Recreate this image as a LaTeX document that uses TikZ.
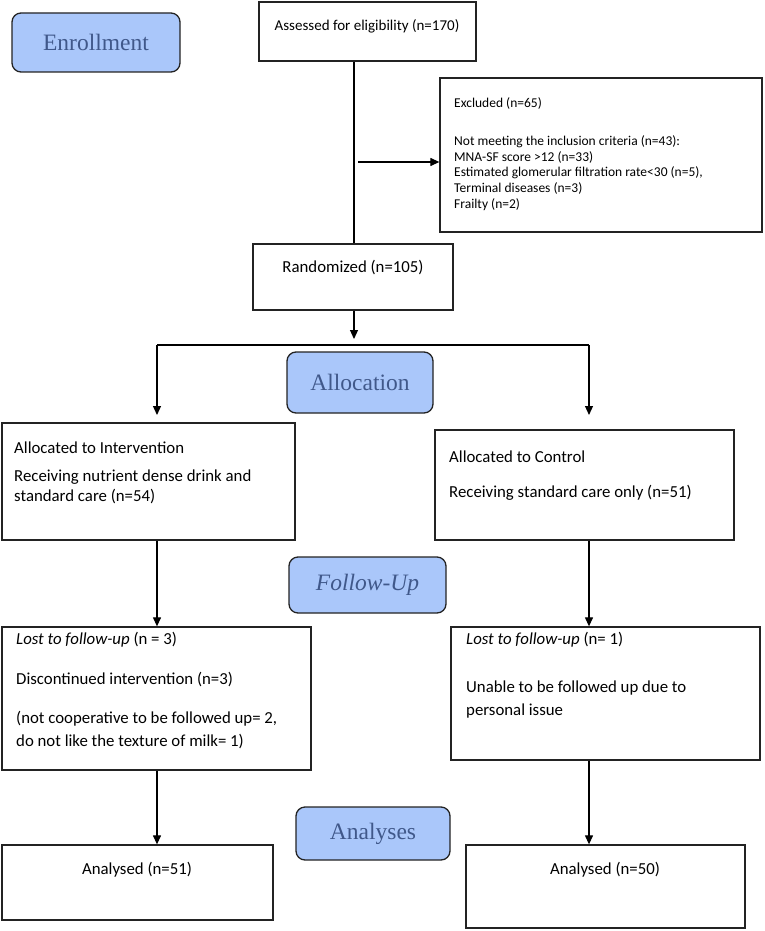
\documentclass[tikz,border=0pt]{standalone}
\usepackage{fontspec}
\setmainfont{Carlito}
\newfontfamily\headfont{Liberation Serif}
\usetikzlibrary{arrows.meta,fit}
\definecolor{hfill}{RGB}{170,199,250}
\definecolor{htext}{RGB}{64,88,138}
\definecolor{edge}{RGB}{35,35,35}
\begin{document}
\begin{tikzpicture}[x=1pt,y=-1pt,
  box/.style={draw=edge, line width=1.3pt, rectangle, inner sep=0pt},
  head/.style={draw=edge, line width=1.3pt, fill=hfill, rounded corners=9pt, inner sep=0pt},
  htxt/.style={font=\headfont\fontsize{23.5}{28}\selectfont, text=htext, inner sep=0pt},
  txt/.style={font=\fontsize{16.8}{20}\selectfont, inner sep=0pt, anchor=west, align=left},
  ltxt/.style={font=\fontsize{16.8}{23}\selectfont, inner sep=0pt, anchor=west, align=left},
  ctxt/.style={font=\fontsize{16.8}{20}\selectfont, inner sep=0pt},
  conn/.style={draw=black, line width=1.2pt},
  arr/.style={conn, -{Triangle[length=9pt,width=8pt]}}]
\useasboundingbox (0,0) rectangle (764,931);

% headers
\node[head, fit={(12,13) (180,72)}] (enr) {};
\node[htxt] (enrt) at (enr.center) {Enrollment};
\node[head, fit={(287,352) (433,413)}] (alloc) {};
\node[htxt] (alloct) at (alloc.center) {Allocation};
\node[head, fit={(289,557) (446,613)}] (fu) {};
\node[htxt, font=\headfont\itshape\fontsize{23.5}{28}\selectfont] (fut) at (fu.center) {Follow-Up};
\node[head, fit={(296,807) (450,860)}] (ana) {};
\node[htxt] (anat) at (ana.center) {Analyses};

% boxes
\node[box, fit={(259,2) (476,61)}] (assess) {};
\node[ctxt, font=\fontsize{15}{18}\selectfont] (assesst) at (367,26) {Assessed for eligibility (n=170)};

\node[box, fit={(440,78) (762,232)}] (excl) {};
\node[txt, font=\fontsize{13.5}{15.8}\selectfont] (exclt1) at (454,103) {Excluded (n=65)};
\node[txt, font=\fontsize{13.5}{15.8}\selectfont] (exclt2) at (454,173) {Not meeting the inclusion criteria (n=43):\\MNA-SF score {>}12 (n=33)\\Estimated glomerular filtration rate{<}30 (n=5),\\Terminal diseases (n=3)\\Frailty (n=2)};

\node[box, fit={(253,244) (453,310)}] (rand) {};
\node[ctxt] (randt) at (353,268) {Randomized (n=105)};

\node[box, fit={(2,423) (295,540)}] (intv) {};
\node[txt] (intvt1) at (14,448) {Allocated to Intervention};
\node[txt] (intvt2) at (14,487) {Receiving nutrient dense drink and\\standard care (n=54)};

\node[box, fit={(435,430) (734,540)}] (ctrl) {};
\node[txt] (ctrlt1) at (449,457) {Allocated to Control};
\node[txt] (ctrlt2) at (449,493) {Receiving standard care only (n=51)};

\node[box, fit={(2,627) (311,770)}] (lostl) {};
\node[txt] (lostlt1) at (16,640) {\textit{Lost to follow-up} (n = 3)};
\node[txt] (lostlt2) at (16,680) {Discontinued intervention (n=3)};
\node[ltxt] (lostlt3) at (16,730) {(not cooperative to be followed up= 2,\\do not like the texture of milk= 1)};

\node[box, fit={(451,627) (760,760)}] (lostr) {};
\node[txt] (lostrt1) at (466,640) {\textit{Lost to follow-up} (n= 1)};
\node[ltxt] (lostrt2) at (466,700) {Unable to be followed up due to\\personal issue};

\node[box, fit={(2,845) (273,920)}] (anl) {};
\node[ctxt] (anlt) at (137,870) {Analysed (n=51)};
\node[box, fit={(466,845) (745,928)}] (anr) {};
\node[ctxt] (anrt) at (605,870) {Analysed (n=50)};

% connectors
\coordinate (trunk) at (354,0);
\coordinate (exstart) at (358,162);
\coordinate (splitl) at (157,345);
\coordinate (splitr) at (589,345);
\coordinate (tipm) at (354,339);
\coordinate (tipl) at (157,415);
\coordinate (tipr) at (589,415);

\draw[conn] (assess.south -| trunk) -- (rand.north -| trunk);
\draw[arr] (exstart) -- (excl.west |- exstart);
\draw[arr] (rand.south -| trunk) -- (tipm);
\draw[conn] (splitl) -- (splitr);
\draw[arr] (splitl) -- (tipl);
\draw[arr] (splitr) -- (tipr);
\draw[arr] (intv.south -| splitl) -- (lostl.north -| splitl);
\draw[arr] (ctrl.south -| splitr) -- (lostr.north -| splitr);
\draw[arr] (lostl.south -| splitl) -- (anl.north -| splitl);
\draw[arr] (lostr.south -| splitr) -- (anr.north -| splitr);
\end{tikzpicture}
\end{document}
